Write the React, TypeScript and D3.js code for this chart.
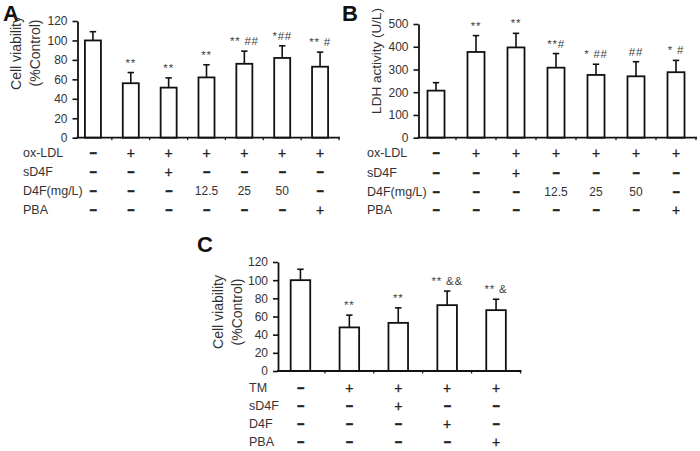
import React, { useEffect, useRef } from 'react';
import * as d3 from 'd3';

const FONT = '"Liberation Sans", Arial, sans-serif';

// panel A - cell viability after ox-LDL
const viabilityA = [100, 56, 51.5, 62, 76, 82, 73];
const viabilityErrA = [9, 11, 10, 13, 13, 12.5, 15];
const signifA = ['', '**', '**', '**', '** ##', '*##', '** #'];

// panel B - LDH release
const ldhB = [207, 377, 397, 308, 276, 270, 288];
const ldhErrB = [35, 72, 62, 62, 47, 64, 52];
const signifB = ['', '**', '**', '**#', '* ##', '##', '* #'];

// panel C - cell viability after TM
const viabilityC = [100, 48, 53, 72.5, 67];
const viabilityErrC = [12, 13.5, 16.5, 15.5, 12];
const signifC = ['', '**', '**', '** &&', '** &'];

// treatment tables
const rowsAB = ['ox-LDL', 'sD4F', 'D4F(mg/L)', 'PBA'];
const oxLdl = ['-', '+', '+', '+', '+', '+', '+'];
const sD4fAB = ['-', '-', '+', '-', '-', '-', '-'];
const d4fDose = ['-', '-', '-', '12.5', '25', '50', '-'];
const pbaAB = ['-', '-', '-', '-', '-', '-', '+'];

const rowsC = ['TM', 'sD4F', 'D4F', 'PBA'];
const tmC = ['-', '+', '+', '+', '+'];
const sD4fC = ['-', '-', '+', '-', '-'];
const d4fC = ['-', '-', '-', '+', '-'];
const pbaC = ['-', '-', '-', '-', '+'];

const ticksViability = [0, 20, 40, 60, 80, 100, 120];
const ticksLdh = [0, 100, 200, 300, 400, 500];

function drawPanel(root: any, p: any) {
    const g = root.append('g');
    const n = p.values.length;

    let x = d3.scaleBand<number>()
        .domain(d3.range(n))
        .range([p.x0, p.x1])
        .paddingInner(p.pad)
        .paddingOuter(p.pad / 2);
    let y = d3.scaleLinear()
        .domain([0, p.yMax])
        .range([p.yBottom, p.yTop]);
    const cx = (i: number) => (x(i) as number) + x.bandwidth() / 2;
    const step = x.step();

    // letter
    g.append('text')
        .attr('x', p.letterX)
        .attr('y', p.letterY)
        .attr('font-family', FONT)
        .attr('font-weight', 'bold')
        .attr('font-size', 22)
        .attr('fill', '#111')
        .text(p.letter);

    // y title
    p.title.forEach((t: string, k: number) => {
        g.append('text')
            .attr('transform', 'translate(' + p.titleX[k] + ',' + p.titleY + ') rotate(-90)')
            .attr('text-anchor', 'middle')
            .attr('dominant-baseline', 'central')
            .attr('font-family', FONT)
            .attr('font-size', p.titleSize)
            .attr('fill', '#333')
            .text(t);
    });

    // bars
    g.selectAll('rect.bar')
        .data(p.values)
        .enter().append('rect')
        .attr('x', (d: number, i: number) => x(i))
        .attr('y', (d: number) => y(d))
        .attr('width', x.bandwidth())
        .attr('height', (d: number) => p.yBottom - y(d))
        .attr('fill', '#fff')
        .attr('stroke', '#111')
        .attr('stroke-width', 1.8);

    // error bars (upper only)
    p.values.forEach((v: number, i: number) => {
        const top = y(v + p.errs[i]);
        g.append('line')
            .attr('x1', cx(i)).attr('x2', cx(i))
            .attr('y1', y(v)).attr('y2', top)
            .attr('stroke', '#111').attr('stroke-width', 1.6);
        g.append('line')
            .attr('x1', cx(i) - 3.2).attr('x2', cx(i) + 3.2)
            .attr('y1', top).attr('y2', top)
            .attr('stroke', '#111').attr('stroke-width', 1.6);
        if (p.signif[i]) {
            g.append('text')
                .attr('x', cx(i))
                .attr('y', top - 6)
                .attr('text-anchor', 'middle')
                .attr('font-family', FONT)
                .attr('font-size', 11.5)
                .attr('letter-spacing', 0.8)
                .attr('fill', '#444')
                .attr('xml:space', 'preserve')
                .text(p.signif[i]);
        }
    });

    // y axis
    const yAxis = d3.axisLeft(y).tickValues(p.ticks).tickSize(5).tickPadding(5).tickSizeOuter(0);
    const ya = g.append('g')
        .attr('transform', 'translate(' + p.axisX + ',0)')
        .call(yAxis);
    ya.attr('font-family', FONT).attr('font-size', 12);
    ya.select('.domain').attr('stroke', '#111').attr('stroke-width', 1.8);
    ya.selectAll('.tick line').attr('stroke', '#111').attr('stroke-width', 1.6);
    ya.selectAll('.tick text').attr('fill', '#333');

    // x axis baseline with small ticks between groups
    g.append('line')
        .attr('x1', p.axisX - 1).attr('x2', p.x1 + 1)
        .attr('y1', p.yBottom).attr('y2', p.yBottom)
        .attr('stroke', '#111').attr('stroke-width', 1.8);
    d3.range(n).forEach((i: number) => {
        const bx = cx(i) + step / 2;
        g.append('line')
            .attr('x1', bx).attr('x2', bx)
            .attr('y1', p.yBottom).attr('y2', p.yBottom + 2.5)
            .attr('stroke', '#111').attr('stroke-width', 1.2);
    });

    // treatment table
    p.rows.forEach((label: string, r: number) => {
        const ry = p.rowY[r];
        g.append('text')
            .attr('x', p.labelX)
            .attr('y', ry)
            .attr('dominant-baseline', 'central')
            .attr('font-family', FONT)
            .attr('font-size', 12.5)
            .attr('fill', '#333')
            .text(label);
        p.table[r].forEach((s: string, i: number) => {
            const t = g.append('text')
                .attr('x', cx(i))
                .attr('y', ry)
                .attr('text-anchor', 'middle')
                .attr('dominant-baseline', 'central')
                .attr('font-family', FONT)
                .attr('fill', '#222');
            if (s === '-') {
                t.attr('font-size', 12).attr('font-weight', 'bold')
                    .attr('stroke', '#222').attr('stroke-width', 0.9)
                    .text('\u2212');
            } else if (s === '+') {
                t.attr('font-size', 14).attr('stroke', '#222').attr('stroke-width', 0.3).text('+');
            } else {
                t.attr('font-size', 12).attr('fill', '#333').text(s);
            }
        });
    });
}

export default function App() {
    const ref = useRef<SVGSVGElement>(null);

    useEffect(() => {
        const svg = d3.select(ref.current);
        svg.selectAll('*').remove();
        svg.append('rect').attr('width', 700).attr('height', 451).attr('fill', '#fff');

        drawPanel(svg, {
            letter: 'A', letterX: 3, letterY: 21,
            values: viabilityA, errs: viabilityErrA, signif: signifA,
            yMax: 120, ticks: ticksViability,
            x0: 74, x1: 339, pad: 0.577, axisX: 77.5,
            yTop: 21, yBottom: 137.7,
            title: ['Cell viability', '(%Control)'], titleX: [16, 35], titleY: 53, titleSize: 14,
            rows: rowsAB, table: [oxLdl, sD4fAB, d4fDose, pbaAB],
            rowY: [153, 172, 191, 209.5], labelX: 23
        });

        drawPanel(svg, {
            letter: 'B', letterX: 342, letterY: 21,
            values: ldhB, errs: ldhErrB, signif: signifB,
            yMax: 500, ticks: ticksLdh,
            x0: 416, x1: 696, pad: 0.575, axisX: 418.5,
            yTop: 24, yBottom: 137.7,
            title: ['LDH activity (U/L)'], titleX: [376], titleY: 61, titleSize: 13.5,
            rows: rowsAB, table: [oxLdl, sD4fAB, d4fDose, pbaAB],
            rowY: [153, 172.5, 191.5, 210], labelX: 367
        });

        drawPanel(svg, {
            letter: 'C', letterX: 197, letterY: 252,
            values: viabilityC, errs: viabilityErrC, signif: signifC,
            yMax: 120, ticks: ticksViability,
            x0: 276, x1: 520.5, pad: 0.6, axisX: 278,
            yTop: 262, yBottom: 371,
            title: ['Cell viability', '(%Control)'], titleX: [217.5, 236.5], titleY: 312, titleSize: 14,
            rows: rowsC, table: [tmC, sD4fC, d4fC, pbaC],
            rowY: [388, 406, 423.5, 442], labelX: 249
        });
    }, []);

    return (
        <svg ref={ref} width={700} height={451}
            style={{ position: 'absolute', left: 0, top: 0, display: 'block' }} />
    );
}
